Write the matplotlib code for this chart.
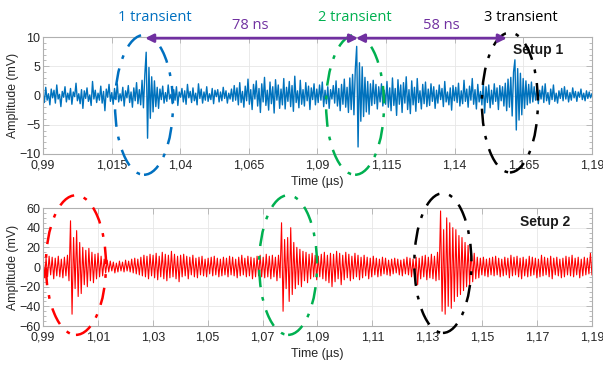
import matplotlib
matplotlib.use("Agg")
import matplotlib.pyplot as plt
from matplotlib.patches import Ellipse
from matplotlib.ticker import MultipleLocator, FixedLocator
import numpy as np

# ---------------- data ----------------
t_start, t_end = 0.99, 1.19

# Setup 1 (blue) amplitude samples, mV
setup1_mv = [
    0.5,-1.2,1.4,-0.8,0.3,-1.6,1.1,-0.4,0.9,-1.3,1.8,-0.6,0.2,-1.9,0.7,-0.3,1.5,-1.1,0.4,-0.7,
    1.2,-1.5,0.6,-0.2,2.1,-0.9,0.3,-1.4,1.0,-2.2,0.8,-0.5,1.3,-1.0,0.1,-1.7,2.4,-0.6,0.9,-1.2,
    0.4,-0.8,1.6,-1.3,0.7,-2.6,1.1,-0.3,1.9,-1.0,0.5,-1.5,1.2,-0.7,2.0,-1.1,0.3,-0.9,1.4,-1.8,
    0.8,-0.4,1.7,-1.2,0.6,-2.0,1.3,-0.9,2.2,-1.4,1.0,-1.6,2.6,-2.1,3.5,7.4,-7.3,4.8,-3.9,3.2,
    -2.8,2.5,-1.9,1.4,-2.2,1.1,-0.7,1.6,-1.3,0.5,-1.0,1.8,-0.6,0.2,-1.4,1.0,-0.8,1.5,-1.7,0.6,
    -0.3,1.2,-1.1,0.8,-1.5,1.9,-0.4,0.7,-1.2,1.3,-0.9,0.4,-1.6,2.0,-0.5,1.1,-1.3,0.6,-0.8,1.5,
    -1.0,0.3,-0.7,1.2,-1.4,0.9,-0.2,1.0,-1.1,0.6,-0.9,1.4,-0.5,0.8,-1.3,0.4,-0.6,1.1,-1.0,1.7,
    -0.8,1.3,-1.6,2.2,-1.2,0.7,-2.0,1.6,-0.9,2.8,-1.5,1.0,-2.4,1.9,-0.6,2.5,-1.8,1.2,-2.9,2.0,
    -1.1,3.1,-1.7,0.9,-2.5,2.3,-1.4,1.5,-3.0,2.7,-0.8,1.8,-2.2,1.1,-1.6,2.9,-2.3,1.4,-1.0,2.4,
    -1.9,1.7,-2.7,3.3,-1.2,0.8,-2.1,2.6,-1.5,1.0,-1.8,2.2,-0.9,1.6,-2.4,1.3,-0.7,2.0,-1.6,1.1,
    -1.2,1.8,-0.8,2.3,-1.9,0.9,-1.4,1.5,-2.2,1.0,-0.6,1.7,-1.3,2.5,-1.8,1.2,-2.6,1.9,-1.5,2.8,
    -2.0,1.4,-2.9,3.0,-2.4,3.6,-3.3,4.5,8.4,-8.8,5.6,-4.4,4.9,-3.6,3.1,-2.8,2.4,-3.2,2.0,-1.7,
    2.6,-1.4,1.9,-2.3,1.5,-1.1,2.0,-1.8,0.9,-1.5,2.4,-2.0,1.3,-2.6,3.0,-1.7,1.2,-3.4,2.7,-1.5,
    1.8,-2.9,2.2,-1.3,3.2,-2.4,1.0,-3.1,2.5,-1.6,1.4,-2.7,2.9,-1.2,0.8,-2.3,1.9,-1.4,2.3,-1.9,
    1.1,-1.7,2.0,-1.0,1.5,-2.2,0.9,-1.3,1.8,-0.7,1.2,-1.9,2.4,-1.1,0.6,-1.6,1.3,-2.5,1.7,-0.9,
    1.4,-1.2,2.1,-1.8,0.8,-1.4,2.6,-1.0,1.1,-2.0,1.6,-0.8,2.9,-1.5,1.0,-2.3,1.9,-1.1,0.7,-1.6,
    2.2,-3.0,1.5,-1.2,1.8,-2.1,0.9,-1.5,2.0,-1.0,1.3,-2.4,1.7,-0.9,1.5,-1.8,2.1,-2.6,2.8,-2.0,
    3.1,-3.5,4.0,6.1,-5.9,4.6,-4.2,3.8,-3.3,2.9,-2.2,2.5,-1.6,1.9,-1.3,2.3,-1.1,1.5,-0.8,1.2,
    -1.4,0.9,-0.6,1.6,-1.2,2.0,-0.9,0.5,-1.5,1.1,-0.7,1.8,-1.0,0.4,-1.3,0.8,-0.5,1.2,-0.9,1.5,
    -0.6,0.9,-1.1,0.5,-0.8,1.3,-0.4,0.7,-1.0,0.6,-0.3,1.1,-0.7,0.4,-0.9,0.8,-0.5,0.6,-0.4,0.3,
]

# Setup 2 (red) amplitude samples, mV
setup2_mv = [
    12,-11,9,-10,11,-8,10,-12,9,-9,11,-10,8,-11,10,-9,12,-14,47,-48,
    30,-22,37,-30,25,-27,20,-18,17,-20,19,-14,15,-16,13,-12,14,-10,11,-9,
    8,-6,7,-5,6,-4,5,-6,4,-5,6,-4,5,-5,7,-4,6,-5,8,-6,
    9,-7,8,-8,10,-9,12,-10,11,-12,13,-9,12,-11,14,-13,11,-10,15,-12,
    13,-14,12,-11,16,-10,13,-12,11,-15,12,-10,13,-9,11,-12,10,-8,12,-10,
    9,-11,10,-8,11,-9,8,-10,9,-7,10,-9,11,-8,9,-10,8,-9,10,-8,
    9,-10,11,-8,10,-9,8,-11,10,-9,12,-8,9,-10,11,-9,10,-12,9,-10,
    11,-9,12,-10,10,-11,13,-10,11,-12,12,-10,10,-14,12,-11,45,-45,28,-22,
    30,-35,40,-28,25,-22,20,-18,18,-20,16,-14,15,-16,13,-12,14,-10,12,-13,
    11,-10,13,-12,15,-14,12,-16,14,-20,13,-15,16,-12,14,-18,12,-13,15,-11,
    13,-14,11,-12,14,-10,12,-13,10,-11,12,-9,10,-12,9,-10,11,-8,9,-10,
    8,-9,10,-7,9,-8,7,-9,8,-7,9,-6,8,-8,7,-9,8,-7,10,-8,
    9,-10,8,-9,10,-18,9,-12,11,-10,12,-13,10,-11,13,-12,11,-14,15,-13,
    57,-45,38,-48,50,-40,45,-42,40,-35,38,-30,32,-28,30,-24,25,-20,22,-18,
    18,-15,14,-12,10,-11,9,-8,10,-9,8,-10,9,-8,10,-9,11,-8,9,-10,
    8,-9,10,-8,9,-11,12,-9,10,-8,11,-10,9,-12,10,-9,8,-10,11,-9,
    10,-8,9,-11,8,-10,12,-9,10,-8,9,-10,11,-12,9,-8,10,-9,8,-11,
    9,-10,11,-8,10,-9,12,-10,9,-8,10,-11,8,-9,10,-8,9,-7,14,-8,
]

top_xticks = [0.99, 1.015, 1.04, 1.065, 1.09, 1.115, 1.14, 1.165, 1.19]
top_xlabels = ["0,99", "1,015", "1,04", "1,065", "1,09", "1,115", "1,14", "1,165", "1,19"]
bot_xticks = [0.99, 1.01, 1.03, 1.05, 1.07, 1.09, 1.11, 1.13, 1.15, 1.17, 1.19]
bot_xlabels = ["0,99", "1,01", "1,03", "1,05", "1,07", "1,09", "1,11", "1,13", "1,15", "1,17", "1,19"]

t1 = np.linspace(t_start, t_end, len(setup1_mv))
t2 = np.linspace(t_start, t_end, len(setup2_mv))

# ---------------- figure ----------------
plt.rcParams['font.family'] = ['Liberation Sans', 'DejaVu Sans']
fig = plt.figure(figsize=(6.03, 3.65), dpi=100)
ax1 = fig.add_axes([0.0713, 0.5781, 0.9104, 0.3205])
ax2 = fig.add_axes([0.0713, 0.1068, 0.9104, 0.3233])

tick_col = '#262626'
spine_col = '#b0b0b0'

def style(ax, xt, xl, ylim, ymaj, ymin):
    ax.set_xlim(t_start, t_end)
    ax.set_ylim(*ylim)
    ax.xaxis.set_major_locator(FixedLocator(xt))
    ax.set_xticklabels(xl)
    ax.yaxis.set_major_locator(MultipleLocator(ymaj))
    ax.yaxis.set_minor_locator(MultipleLocator(ymin))
    ax.tick_params(axis='both', which='both', direction='in', top=True, right=True,
                   colors=spine_col, labelcolor=tick_col, labelsize=9)
    ax.tick_params(axis='both', which='major', length=4, width=0.6)
    ax.tick_params(axis='y', which='minor', length=2.5, width=0.6)
    ax.tick_params(axis='x', pad=4)
    ax.tick_params(axis='y', pad=2)
    for s in ax.spines.values():
        s.set_color(spine_col)
        s.set_linewidth(0.8)
    ax.grid(True, which='major', color='#e6e6e6', linewidth=0.6)
    ax.set_axisbelow(True)
    ax.set_xlabel("Time (µs)", fontsize=9, color=tick_col, labelpad=3)
    ax.set_ylabel("Amplitude (mV)", fontsize=8.8, color=tick_col, labelpad=0)

style(ax1, top_xticks, top_xlabels, (-10, 10), 5, 1)
style(ax2, bot_xticks, bot_xlabels, (-60, 60), 20, 5)

ax1.plot(t1, setup1_mv, color='#0072BD', linewidth=1.0)
ax2.plot(t2, setup2_mv, color='#FF0000', linewidth=0.8)

# ---------------- annotations ----------------
dash = (0, (7, 4, 1.5, 4))
ell_kw = dict(fill=False, linewidth=1.8, linestyle=dash, clip_on=False, zorder=5)
ax1.add_patch(Ellipse((1.0268, -1.6), 0.0211, 23.9, edgecolor='#0070C0', **ell_kw))
ax1.add_patch(Ellipse((1.1037, -1.6), 0.0211, 23.9, edgecolor='#00B050', **ell_kw))
ax1.add_patch(Ellipse((1.1601, -1.2), 0.0204, 23.9, edgecolor='#000000', **ell_kw))
ax2.add_patch(Ellipse((1.0020, 2), 0.0219, 142, edgecolor='#FF0000', **ell_kw))
ax2.add_patch(Ellipse((1.0793, 2), 0.0211, 142, edgecolor='#00B050', **ell_kw))
ax2.add_patch(Ellipse((1.1357, 4), 0.0208, 142, edgecolor='#000000', **ell_kw))

arrow_kw = dict(arrowstyle='<|-|>', color='#7030A0', lw=2.0, mutation_scale=12,
                shrinkA=0, shrinkB=0)
ax1.annotate('', xy=(1.0272, 9.8), xytext=(1.1048, 9.8),
             arrowprops=arrow_kw, annotation_clip=False, zorder=6)
ax1.annotate('', xy=(1.1040, 9.8), xytext=(1.1590, 9.8),
             arrowprops=arrow_kw, annotation_clip=False, zorder=6)

txt_kw = dict(fontsize=10.5, family=['Open Sans', 'DejaVu Sans'], ha='center', va='center',
              clip_on=False)
ax1.text(1.0308, 13.4, "1 transient", color='#0070C0', **txt_kw)
ax1.text(1.0654, 11.9, "78 ns", color='#7030A0', **txt_kw)
ax1.text(1.1037, 13.4, "2 transient", color='#00B050', **txt_kw)
ax1.text(1.1350, 11.9, "58 ns", color='#7030A0', **txt_kw)
ax1.text(1.1640, 13.4, "3 transient", color='#000000', **txt_kw)

ax1.text(1.1703, 7.8, "Setup 1", fontsize=10, fontweight='bold', ha='center', va='center',
         color='#1a1a1a')
ax2.text(1.1729, 45.8, "Setup 2", fontsize=10, fontweight='bold', ha='center', va='center',
         color='#1a1a1a')

fig.savefig("out.png", dpi=100)
